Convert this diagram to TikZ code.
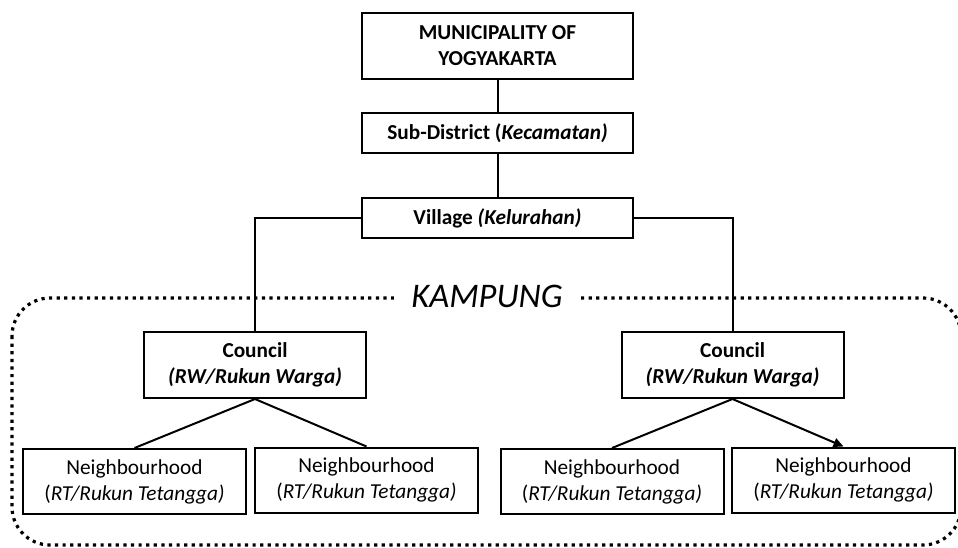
\documentclass[tikz,border=0pt]{standalone}
\usepackage{fontspec}
\setmainfont{Carlito}
\usepackage{tikz}
\usetikzlibrary{arrows.meta}

\begin{document}
\begin{tikzpicture}[x=1pt,y=-1pt,>={Triangle[length=10pt,width=9pt]},
  caja/.style={draw,line width=2pt,align=center,inner sep=0pt,
    font=\fontsize{21.3}{26}\selectfont},
  ancha/.style={caja,minimum width=271pt},
  media/.style={caja,minimum width=222pt,minimum height=66pt},
  enlace/.style={line width=2pt},
  borde/.style={line width=3.2pt,dash pattern=on 3.2pt off 4.4pt,rounded corners=38pt}]
  \useasboundingbox (0,0) rectangle (958,547);
  % kampung boundary
  \draw[borde] (12,298) rectangle (961,545);
  \node[fill=white,inner xsep=17pt,inner ysep=2pt,font=\fontsize{34.5}{40}\selectfont\itshape]
    (kampung) at (487,296) {KAMPUNG};
  % government levels
  \node[ancha,minimum height=66pt] (muni) at (497.5,46) {\textbf{MUNICIPALITY OF}\\\textbf{YOGYAKARTA}};
  \node[ancha,minimum height=40pt] (sub) at (497.5,133) {\textbf{Sub-District (\textit{Kecamatan)}}};
  \node[ancha,minimum height=40pt] (vil) at (497.5,218) {\textbf{Village \textit{(Kelurahan)}}};
  \node[media] (counL) at (255,365) {\textbf{Council}\\\textbf{\textit{(RW/Rukun Warga)}}};
  \node[media] (counR) at (732.5,365) {\textbf{Council}\\\textbf{\textit{(RW/Rukun Warga)}}};
  \node[media,minimum width=223pt,minimum height=65pt] (nbL1) at (134.5,481.5) {Neighbourhood\\(\textit{RT/Rukun Tetangga)}};
  \node[media,minimum width=223pt,minimum height=65pt] (nbL2) at (366.5,480) {Neighbourhood\\(\textit{RT/Rukun Tetangga)}};
  \node[media,minimum width=223pt,minimum height=65pt] (nbR1) at (612,481.5) {Neighbourhood\\(\textit{RT/Rukun Tetangga)}};
  \node[media,minimum width=223pt,minimum height=65pt] (nbR2) at (843.5,480) {Neighbourhood\\(\textit{RT/Rukun Tetangga)}};
  % links
  \draw[enlace] (muni) -- (sub);
  \draw[enlace] (sub) -- (vil);
  \draw[enlace] (vil.west) -| (counL.north);
  \draw[enlace] (vil.east) -| (counR.north);
  \draw[enlace] (counL.south) -- (nbL1.north);
  \draw[enlace] (counL.south) -- (nbL2.north);
  \draw[enlace] (counR.south) -- (nbR1.north);
  \draw[enlace,->] (counR.south) -- (nbR2.north);
\end{tikzpicture}
\end{document}
